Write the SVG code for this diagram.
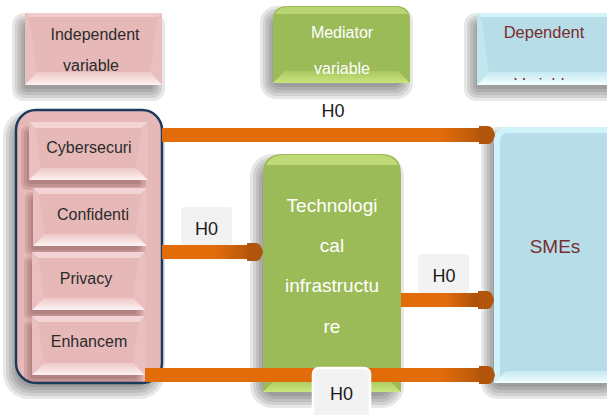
<svg xmlns="http://www.w3.org/2000/svg" width="607" height="415" viewBox="0 0 607 415">
  <defs>
    <style>
      .t { font-family: "Liberation Sans", Arial, sans-serif; text-anchor: middle; }
      .dark { fill: #2b2b2b; font-size: 16px; }
      .white { fill: #ffffff; font-size: 16px; }
      .maroon { fill: #7a2e2e; font-size: 16.5px; }
      .big { font-size: 19px; }
      .h0 { fill: #1a1a1a; font-size: 18px; }
      .pink { fill: #e6b9b8; }
      .green { fill: #9bbb59; }
      .blue { fill: #b7dde8; }
      .pside { fill: #e9c0bf; }
      .sh { fill: #222222; fill-opacity: 0.11; }
      .ish { fill: #5a2a2a; fill-opacity: 0.14; }
      .conn { fill: none; stroke-width: 14; marker-end: url(#head); }
      .lbl { fill: #f2f2f2; }
    </style>
    <linearGradient id="pinkBottom" x1="0" y1="0" x2="0" y2="1">
      <stop offset="0" stop-color="#eec8c7"/>
      <stop offset="1" stop-color="#fdf2f2"/>
    </linearGradient>
    <linearGradient id="greenBottom" x1="0" y1="0" x2="0" y2="1">
      <stop offset="0" stop-color="#a9c862"/>
      <stop offset="1" stop-color="#c9e67c"/>
    </linearGradient>
    <linearGradient id="blueBottom" x1="0" y1="0" x2="0" y2="1">
      <stop offset="0" stop-color="#c6e9f1"/>
      <stop offset="1" stop-color="#f2feff"/>
    </linearGradient>
    <linearGradient id="g1" gradientUnits="userSpaceOnUse" x1="440" y1="0" x2="480" y2="0">
      <stop offset="0" stop-color="#e36c0a"/><stop offset="1" stop-color="#b8580a"/>
    </linearGradient>
    <linearGradient id="g2" gradientUnits="userSpaceOnUse" x1="215" y1="0" x2="248" y2="0">
      <stop offset="0" stop-color="#e36c0a"/><stop offset="1" stop-color="#b8580a"/>
    </linearGradient>
    <linearGradient id="g3" gradientUnits="userSpaceOnUse" x1="445" y1="0" x2="479" y2="0">
      <stop offset="0" stop-color="#e36c0a"/><stop offset="1" stop-color="#a94f0a"/>
    </linearGradient>
    <marker id="head" markerUnits="userSpaceOnUse" viewBox="0 0 16 20" refX="0" refY="10" markerWidth="16" markerHeight="20" orient="auto">
      <path d="M0,1 L9,1 Q12,1 13.5,3.5 L15.6,8.3 Q16.2,10 15.6,11.7 L13.5,16.5 Q12,19 9,19 L0,19 Z" fill="#b0550b"/>
    </marker>
    <clipPath id="depClip"><rect x="477" y="13" width="140" height="67"/></clipPath>
    <clipPath id="groupClip"><rect x="17" y="111" width="144" height="271" rx="19"/></clipPath>
  </defs>

  <!-- soft cast shadows, built from stacked translucent layers -->
  <g id="shadows">
    <rect class="sh" x="24" y="25" width="129" height="64" rx="4"/>
    <rect class="sh" x="21" y="22" width="135" height="70" rx="6"/>
    <rect class="sh" x="18" y="19" width="141" height="76" rx="8"/>
    <rect class="sh" x="15" y="16" width="147" height="82" rx="10"/>
    <rect class="sh" x="12" y="13" width="153" height="88" rx="12"/>

    <rect class="sh" x="272" y="18" width="129" height="69" rx="8"/>
    <rect class="sh" x="269" y="15" width="135" height="75" rx="10"/>
    <rect class="sh" x="266" y="12" width="141" height="81" rx="12"/>
    <rect class="sh" x="263" y="9" width="147" height="87" rx="14"/>
    <rect class="sh" x="260" y="6" width="153" height="93" rx="16"/>

    <rect class="sh" x="476" y="25" width="132" height="64" rx="4"/>
    <rect class="sh" x="473" y="22" width="138" height="70" rx="6"/>
    <rect class="sh" x="470" y="19" width="144" height="76" rx="8"/>
    <rect class="sh" x="467" y="16" width="150" height="82" rx="10"/>
    <rect class="sh" x="464" y="13" width="156" height="88" rx="12"/>

    <rect class="sh" x="15" y="122" width="138" height="265" rx="18"/>
    <rect class="sh" x="12" y="119" width="144" height="271" rx="20"/>
    <rect class="sh" x="9" y="116" width="150" height="277" rx="22"/>
    <rect class="sh" x="6" y="113" width="156" height="283" rx="24"/>
    <rect class="sh" x="3" y="110" width="162" height="289" rx="26"/>

    <rect class="sh" x="262" y="166" width="130" height="230" rx="14"/>
    <rect class="sh" x="259" y="163" width="136" height="236" rx="16"/>
    <rect class="sh" x="256" y="160" width="142" height="242" rx="18"/>
    <rect class="sh" x="253" y="157" width="148" height="248" rx="20"/>
    <rect class="sh" x="250" y="154" width="154" height="254" rx="22"/>

    <rect class="sh" x="493" y="139" width="115" height="248" rx="8"/>
    <rect class="sh" x="490" y="136" width="121" height="254" rx="10"/>
    <rect class="sh" x="487" y="133" width="127" height="260" rx="12"/>
    <rect class="sh" x="484" y="130" width="133" height="266" rx="14"/>
    <rect class="sh" x="481" y="127" width="139" height="272" rx="16"/>
  </g>

  <!-- column headers -->
  <g id="independent-header">
    <rect class="pink" x="25" y="13" width="137" height="72"/>
    <polygon points="25,13 162,13 158,17 29,17" fill="#efcbcb"/>
    <polygon class="pside" points="25,13 29,17 37,72 25,85"/>
    <polygon class="pside" points="162,13 158,17 150,72 162,85"/>
    <polygon points="25,85 37,72 150,72 162,85" fill="url(#pinkBottom)"/>
    <text class="t dark" x="95" y="40">Independent</text>
    <text class="t dark" x="91" y="71">variable</text>
  </g>

  <g id="mediator-header">
    <path class="green" d="M273,83 V20 Q273,6 287,6 H396 Q410,6 410,20 V83 Z"/>
    <path d="M275,14 Q279,7 287,7 H396 Q404,7 408,14 Z" fill="#c4e07c" opacity="0.7"/>
    <polygon points="273,83 285,71 398,71 410,83" fill="url(#greenBottom)"/>
    <text class="t white" x="342" y="38">Mediator</text>
    <text class="t white" x="342" y="74">variable</text>
  </g>

  <g id="dependent-header">
    <rect class="blue" x="477" y="13" width="140" height="72"/>
    <polygon points="477,13 617,13 613,17 481,17" fill="#d4f4fa"/>
    <polygon points="477,13 481,17 489,72 477,85" fill="#c2e6ee"/>
    <polygon points="477,85 489,72 617,72 617,85" fill="url(#blueBottom)"/>
    <text class="t maroon" x="544" y="38">Dependent</text>
    <text class="t maroon" x="544" y="90" clip-path="url(#depClip)">Variable</text>
  </g>

  <!-- independent variables container -->
  <g id="independent-group">
    <rect class="pink" x="16" y="110" width="146" height="273" rx="20" stroke="#1b3a5c" stroke-width="2.5"/>
    <g clip-path="url(#groupClip)">
      <rect class="ish" x="27" y="132" width="113" height="52" rx="3"/>
      <rect class="ish" x="24" y="129" width="119" height="58" rx="5"/>
      <rect class="ish" x="21" y="126" width="125" height="64" rx="7"/>
      <rect class="ish" x="31" y="198" width="108" height="52" rx="3"/>
      <rect class="ish" x="28" y="195" width="114" height="58" rx="5"/>
      <rect class="ish" x="25" y="192" width="120" height="64" rx="7"/>
      <rect class="ish" x="30" y="262" width="107" height="52" rx="3"/>
      <rect class="ish" x="27" y="259" width="113" height="58" rx="5"/>
      <rect class="ish" x="24" y="256" width="119" height="64" rx="7"/>
      <rect class="ish" x="30" y="326" width="107" height="53" rx="3"/>
      <rect class="ish" x="27" y="323" width="113" height="59" rx="5"/>
      <rect class="ish" x="24" y="320" width="119" height="65" rx="7"/>
    </g>
  </g>

  <g id="cybersecurity">
    <rect class="pink" x="29" y="122" width="119" height="58" rx="3"/>
    <polygon points="29,122 148,122 142,128 35,128" fill="#f2d4d4"/>
    <polygon class="pside" points="29,122 35,128 41,168 29,180"/>
    <polygon class="pside" points="148,122 142,128 136,168 148,180"/>
    <polygon points="29,180 41,168 136,168 148,180" fill="url(#pinkBottom)"/>
    <text class="t dark" x="89" y="153">Cybersecuri</text>
  </g>

  <g id="confidentiality">
    <rect class="pink" x="33" y="188" width="114" height="58" rx="3"/>
    <polygon points="33,188 147,188 141,194 39,194" fill="#f2d4d4"/>
    <polygon class="pside" points="33,188 39,194 45,234 33,246"/>
    <polygon class="pside" points="147,188 141,194 135,234 147,246"/>
    <polygon points="33,246 45,234 135,234 147,246" fill="url(#pinkBottom)"/>
    <text class="t dark" x="93" y="220">Confidenti</text>
  </g>

  <g id="privacy">
    <rect class="pink" x="32" y="252" width="113" height="58" rx="3"/>
    <polygon points="32,252 145,252 139,258 38,258" fill="#f2d4d4"/>
    <polygon class="pside" points="32,252 38,258 44,298 32,310"/>
    <polygon class="pside" points="145,252 139,258 133,298 145,310"/>
    <polygon points="32,310 44,298 133,298 145,310" fill="url(#pinkBottom)"/>
    <text class="t dark" x="86" y="284">Privacy</text>
  </g>

  <g id="enhancement">
    <rect class="pink" x="32" y="316" width="113" height="59" rx="3"/>
    <polygon points="32,316 145,316 139,322 38,322" fill="#f2d4d4"/>
    <polygon class="pside" points="32,316 38,322 44,363 32,375"/>
    <polygon class="pside" points="145,316 139,322 133,363 145,375"/>
    <polygon points="32,375 44,363 133,363 145,375" fill="url(#pinkBottom)"/>
    <text class="t dark" x="89" y="347">Enhancem</text>
  </g>

  <!-- mediator node -->
  <g id="technological-infrastructure">
    <path class="green" d="M263,392 V174 Q263,154 283,154 H381 Q401,154 401,174 V392 Z"/>
    <path d="M266,165 Q271,155 283,155 H381 Q393,155 398,165 Z" fill="#c8e37e" opacity="0.8"/>
    <polygon points="263,392 275,380 389,380 401,392" fill="url(#greenBottom)"/>
    <text class="t white big" x="332" y="212">Technologi</text>
    <text class="t white big" x="332" y="252">cal</text>
    <text class="t white big" x="332" y="292">infrastructu</text>
    <text class="t white big" x="332" y="333">re</text>
  </g>

  <!-- dependent node -->
  <g id="smes">
    <path class="blue" d="M494,383 V141 Q494,127 508,127 H617 V383 Z"/>
    <path d="M494,383 V141 Q494,127 508,127 H617 V133 H509 Q500,133 500,142 V377 Z" fill="#d0f3fa"/>
    <polygon points="494,383 506,371 617,371 617,383" fill="url(#blueBottom)"/>
    <text class="t maroon big" x="555" y="253">SMEs</text>
  </g>

  <!-- hypothesis connectors -->
  <g id="connectors">
    <path class="conn" d="M162,135 H479" stroke="url(#g1)"/>
    <path class="conn" d="M162,252 H247" stroke="url(#g2)"/>
    <path class="conn" d="M401,300 H478" stroke="url(#g3)"/>
    <path class="conn" d="M145,375 H479" stroke="url(#g1)"/>
  </g>

  <!-- hypothesis labels -->
  <g id="label-top">
    <text class="t h0" x="333" y="117">H0</text>
  </g>
  <g id="label-left">
    <rect class="lbl" x="181" y="207" width="51" height="38" rx="4"/>
    <text class="t h0" x="206.5" y="235">H0</text>
  </g>
  <g id="label-right">
    <rect class="lbl" x="418" y="254" width="51" height="39" rx="4"/>
    <text class="t h0" x="444" y="282">H0</text>
  </g>
  <g id="label-bottom">
    <rect class="lbl" x="313" y="368" width="57" height="52" rx="6" stroke="#ffffff" stroke-width="2.5"/>
    <text class="t h0" x="341.5" y="400">H0</text>
  </g>
</svg>
